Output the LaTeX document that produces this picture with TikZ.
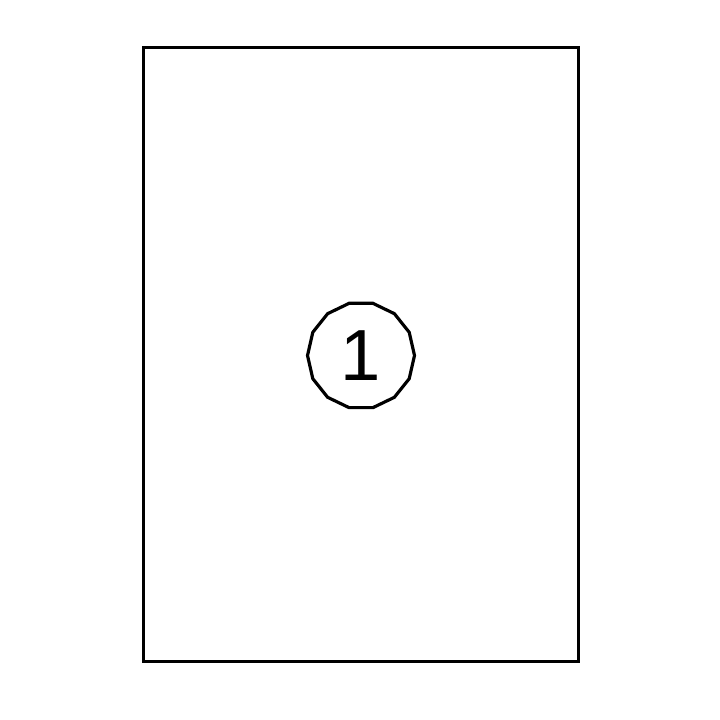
\documentclass[tikz,border=0pt]{standalone}
\usepackage{fontspec}
\setmainfont{Liberation Sans}
\usetikzlibrary{shapes.geometric}
\tikzset{
	sheetline/.style={line width=0.95pt, color=black},
	tagpoly/.style={regular polygon, regular polygon sides=14, draw, line width=0.9pt, inner sep=0pt, minimum size=1.07cm, font=\fontsize{20.6}{24}\selectfont}
}
\begin{document}
\begin{tikzpicture}
			%%%%% START %%%%%
			
			\useasboundingbox (0, 0) rectangle (7.2, 7.2);
			
			\draw[sheetline] (1.435, 0.585) rectangle (5.785, 6.725);
			
			\node[tagpoly] (tag) at (3.61, 3.645) {1};
			
			%%%%% END %%%%%
		\end{tikzpicture}
\end{document}
